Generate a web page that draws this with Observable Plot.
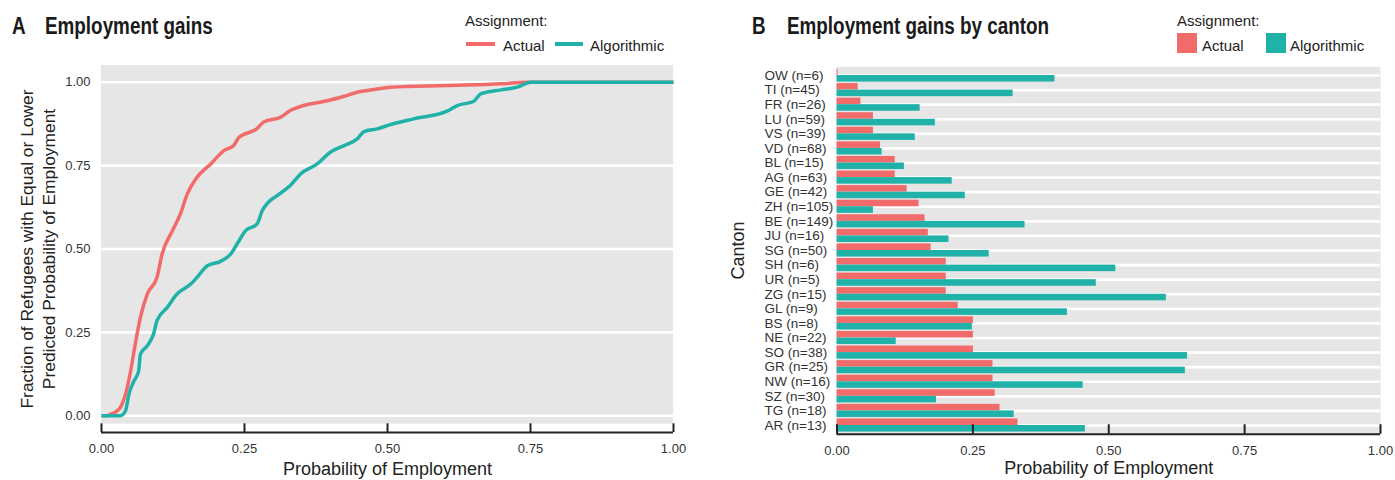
<!DOCTYPE html>
<html>
<head>
<meta charset="utf-8">
<script src="https://cdn.jsdelivr.net/npm/d3@7"></script>
<script src="https://cdn.jsdelivr.net/npm/@observablehq/plot@0.6"></script>
<style>
  html, body { margin: 0; padding: 0; background: #fff; }
  #wrap { position: relative; width: 1395px; height: 480px; overflow: hidden; font-family: "Liberation Sans", Arial, sans-serif; color: #222; }
  .panel { position: absolute; top: 0; }
  .title { position: absolute; font-family: "Liberation Sans", Arial, sans-serif; font-weight: bold; font-size: 23px; line-height: 23px; color: #1a1a1a; white-space: nowrap; transform: scaleX(0.82); transform-origin: 0 0; }
  .leg { position: absolute; font-size: 15px; line-height: 15px; color: #222; white-space: nowrap; }
  .sw { position: absolute; }
</style>
</head>
<body>
<div id="wrap">
  <div id="pa" class="panel" style="left:0px"></div>
  <div id="pb" class="panel" style="left:700px"></div>

  <div class="title" style="left:12px; top:15px">A</div>
  <div class="title" style="left:45px; top:15px">Employment gains</div>
  <div class="title" style="left:752px; top:15px">B</div>
  <div class="title" style="left:787px; top:15px">Employment gains by canton</div>

  <div class="leg" style="left:465px; top:13px">Assignment:</div>
  <div class="sw" id="la1" style="left:466px; top:42px; width:29px; height:4px"></div>
  <div class="leg" style="left:503px; top:37.5px">Actual</div>
  <div class="sw" id="la2" style="left:555px; top:42px; width:28px; height:4px"></div>
  <div class="leg" style="left:590px; top:37.5px">Algorithmic</div>

  <div class="leg" style="left:1177px; top:13px">Assignment:</div>
  <div class="sw" id="lb1" style="left:1177px; top:33px; width:20px; height:20px"></div>
  <div class="leg" style="left:1202px; top:37.5px">Actual</div>
  <div class="sw" id="lb2" style="left:1266px; top:33px; width:20px; height:20px"></div>
  <div class="leg" style="left:1290px; top:37.5px">Algorithmic</div>
</div>
<script>
// ---------- data ----------
const seriesNames = ["Actual", "Algorithmic"];
const seriesColors = ["#F26B6B", "#20B2A9"];

// Panel A: cumulative distribution
const actualX = [0, 0.010, 0.016, 0.025, 0.033, 0.042, 0.051, 0.059, 0.068, 0.080, 0.097, 0.106, 0.124, 0.138, 0.150, 0.167, 0.191, 0.214, 0.231, 0.240, 0.272, 0.283, 0.313, 0.330, 0.353, 0.388, 0.423, 0.447, 0.476, 0.505, 0.604, 0.700, 0.744, 1.0];
const actualY = [0, 0, 0.005, 0.012, 0.025, 0.065, 0.135, 0.215, 0.295, 0.365, 0.415, 0.485, 0.555, 0.605, 0.665, 0.715, 0.755, 0.795, 0.810, 0.834, 0.861, 0.880, 0.895, 0.915, 0.930, 0.942, 0.957, 0.970, 0.978, 0.985, 0.990, 0.995, 1.0, 1.0];
const algoX = [0, 0.033, 0.042, 0.048, 0.057, 0.065, 0.068, 0.080, 0.091, 0.097, 0.115, 0.132, 0.156, 0.167, 0.185, 0.208, 0.226, 0.237, 0.252, 0.272, 0.281, 0.290, 0.307, 0.330, 0.348, 0.377, 0.400, 0.424, 0.447, 0.459, 0.482, 0.505, 0.546, 0.604, 0.622, 0.651, 0.663, 0.698, 0.727, 0.750, 1.0];
const algoY = [0, 0, 0.015, 0.065, 0.105, 0.135, 0.185, 0.210, 0.245, 0.285, 0.325, 0.365, 0.395, 0.415, 0.450, 0.463, 0.485, 0.515, 0.555, 0.575, 0.615, 0.637, 0.660, 0.690, 0.725, 0.755, 0.790, 0.810, 0.830, 0.852, 0.860, 0.873, 0.890, 0.913, 0.930, 0.943, 0.965, 0.977, 0.985, 1.0, 1.0];

const probTicks = [0, 0.25, 0.5, 0.75, 1];
const fracTicks = [0, 0.25, 0.5, 0.75, 1];

// Panel B: by canton
const cantons = ["OW (n=6)", "TI (n=45)", "FR (n=26)", "LU (n=59)", "VS (n=39)", "VD (n=68)", "BL (n=15)", "AG (n=63)", "GE (n=42)", "ZH (n=105)", "BE (n=149)", "JU (n=16)", "SG (n=50)", "SH (n=6)", "UR (n=5)", "ZG (n=15)", "GL (n=9)", "BS (n=8)", "NE (n=22)", "SO (n=38)", "GR (n=25)", "NW (n=16)", "SZ (n=30)", "TG (n=18)", "AR (n=13)"];
const actualByCanton = [0.002, 0.039, 0.044, 0.067, 0.067, 0.080, 0.107, 0.107, 0.129, 0.151, 0.162, 0.168, 0.173, 0.201, 0.201, 0.201, 0.223, 0.251, 0.251, 0.251, 0.287, 0.287, 0.291, 0.300, 0.333];
const algoByCanton = [0.401, 0.324, 0.153, 0.181, 0.144, 0.083, 0.124, 0.212, 0.236, 0.067, 0.346, 0.206, 0.280, 0.513, 0.477, 0.606, 0.424, 0.249, 0.109, 0.645, 0.641, 0.453, 0.183, 0.326, 0.457];

const xTitle = "Probability of Employment";
const yTitleA = "Fraction of Refugees with Equal or Lower\nPredicted Probability of Employment";
const yTitleB = "Canton";

// ---------- build tables ----------
const lineData = [
  ...actualX.map((x, i) => ({series: "Actual", x, y: actualY[i]})),
  ...algoX.map((x, i) => ({series: "Algorithmic", x, y: algoY[i]}))
];
const rows = cantons.map((c, i) => ({i, canton: c, actual: actualByCanton[i], algo: algoByCanton[i]}));
const idx = cantons.map((c, i) => i);

const gray = "#E5E6E5";
const axisColor = "#222";
const fmt = d3.format(".2f");
const font = "'Liberation Sans', Arial, sans-serif";

document.getElementById("la1").style.background = seriesColors[0];
document.getElementById("la2").style.background = seriesColors[1];
document.getElementById("lb1").style.background = seriesColors[0];
document.getElementById("lb2").style.background = seriesColors[1];

// ---------- Panel A ----------
const pa = Plot.plot({
  width: 700, height: 480,
  marginLeft: 101, marginRight: 27, marginTop: 65, marginBottom: 48,
  x: {domain: [0, 1]},
  y: {domain: [-0.05, 1.05]},
  color: {domain: seriesNames, range: seriesColors},
  style: {fontFamily: font, color: "#333", background: "transparent", overflow: "visible"},
  marks: [
    Plot.rect([0], {x1: 0, x2: 1, y1: -0.025, y2: 1.05, fill: gray}),
    Plot.ruleY(fracTicks, {stroke: "white", strokeWidth: 2.6}),
    Plot.line(lineData, {x: "x", y: "y", z: "series", stroke: "series", strokeWidth: 3.5, curve: "monotone-x", strokeLinejoin: "round", strokeLinecap: "butt"}),
    Plot.ruleY([-0.05], {x1: 0, x2: 1, stroke: axisColor, strokeWidth: 2}),
    Plot.ruleX(probTicks, {y1: -0.05, y2: -0.024, stroke: axisColor, strokeWidth: 2}),
    Plot.axisX({ticks: probTicks, tickSize: 0, tickPadding: 11, tickFormat: fmt, fontSize: 13, label: null}),
    Plot.axisY({ticks: fracTicks, tickSize: 0, tickPadding: 11, tickFormat: fmt, fontSize: 13, label: null}),
    Plot.text([xTitle], {text: d => d, frameAnchor: "bottom", dy: 42, fontSize: 18, fill: "#222"}),
    Plot.text([yTitleA], {text: d => d, frameAnchor: "left", textAnchor: "middle", dx: -65, rotate: -90, fontSize: 17.4, lineHeight: 1.28, fill: "#222"})
  ]
});
document.getElementById("pa").append(pa);

// ---------- Panel B ----------
const pb = Plot.plot({
  width: 695, height: 480,
  marginLeft: 136.5, marginRight: 15, marginTop: 66.25, marginBottom: 46.25,
  x: {domain: [0, 1]},
  y: {domain: [-0.6, 24.6], reverse: true, axis: null},
  style: {fontFamily: font, color: "#333", background: "transparent", overflow: "visible"},
  marks: [
    Plot.frame({fill: gray, stroke: "none"}),
    Plot.ruleY(idx, {stroke: "white", strokeWidth: 2.6}),
    Plot.rect(rows, {x1: 0, x2: "actual", y1: d => d.i - 0.45, y2: d => d.i, fill: seriesColors[0]}),
    Plot.rect(rows, {x1: 0, x2: "algo", y1: d => d.i, y2: d => d.i + 0.45, fill: seriesColors[1]}),
    Plot.ruleY([24.6], {x1: 0, x2: 1, stroke: axisColor, strokeWidth: 2}),
    Plot.ruleX(probTicks, {y1: 24.6, y2: 23.95, stroke: axisColor, strokeWidth: 2}),
    Plot.text(rows, {y: "i", text: "canton", frameAnchor: "left", dx: -72.5, textAnchor: "start", fontSize: 13.5, fill: "#333"}),
    Plot.axisX({ticks: probTicks, tickSize: 0, tickPadding: 12, tickFormat: fmt, fontSize: 13, label: null}),
    Plot.text([xTitle], {text: d => d, frameAnchor: "bottom", dy: 40, fontSize: 18, fill: "#222"}),
    Plot.text([yTitleB], {text: d => d, frameAnchor: "left", textAnchor: "middle", dx: -98.5, rotate: -90, fontSize: 18, fill: "#222"})
  ]
});
document.getElementById("pb").append(pb);
</script>
</body>
</html>
